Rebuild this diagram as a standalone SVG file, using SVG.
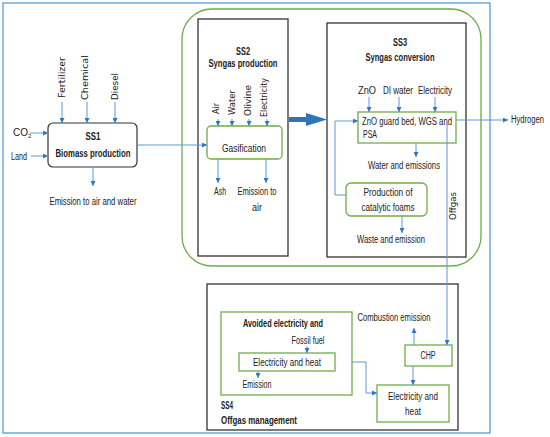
<svg xmlns="http://www.w3.org/2000/svg" width="550" height="437" viewBox="0 0 550 437">
<defs>
<marker id="ah" viewBox="0 0 6 6" refX="6" refY="3" markerWidth="5" markerHeight="5" orient="auto" markerUnits="userSpaceOnUse">
<path d="M0,0 L6,3 L0,6 Z" fill="#2f75c4"/>
</marker>
<style>
text{font-family:"Liberation Sans",Arial,sans-serif;font-size:10px;fill:#222}
.v{font-family:"DejaVu Sans","Liberation Sans",sans-serif;font-size:8.5px}
.b{font-weight:bold}
.m{text-anchor:middle}
.ln{fill:none;stroke:#5b9bd5;stroke-width:1}
.ar{marker-end:url(#ah)}
.blk{fill:#fff;stroke:#333;stroke-width:1.3}
.grn{fill:#fff;stroke:#70ad47;stroke-width:1.3}
</style>
</defs>
<rect width="550" height="437" fill="#fff"/>
<rect x="3" y="3" width="487" height="430" fill="none" stroke="#5b9bd5" stroke-width="1.3"/>
<rect x="182" y="9" width="299" height="257" rx="30" fill="none" stroke="#70ad47" stroke-width="1.3"/>

<g id="ss1">
<rect x="48" y="123" width="89" height="44" rx="5" fill="#fff" stroke="#333" stroke-width="1.2"/>
<text class="b m" x="93" y="140" textLength="15" lengthAdjust="spacingAndGlyphs">SS1</text>
<text class="b m" x="93" y="157" textLength="75" lengthAdjust="spacingAndGlyphs">Biomass production</text>
</g>
<g id="ss1-labels">
<text x="13" y="136">C<tspan dx="0">O</tspan><tspan font-size="6" dy="2">2</tspan></text>
<text x="11" y="160" textLength="16" lengthAdjust="spacingAndGlyphs">Land</text>
<text class="v" transform="translate(65,98) rotate(-90)" textLength="41" lengthAdjust="spacingAndGlyphs">Fertilizer</text>
<text class="v" transform="translate(88,100) rotate(-90)" textLength="45" lengthAdjust="spacingAndGlyphs">Chemical</text>
<text class="v" transform="translate(118,100) rotate(-90)" textLength="27" lengthAdjust="spacingAndGlyphs">Diesel</text>
<text class="m" x="93" y="205" textLength="87" lengthAdjust="spacingAndGlyphs">Emission to air and water</text>
</g>

<g id="ss2">
<rect class="blk" x="198" y="19" width="90" height="237"/>
<text class="b m" x="243" y="55" textLength="14" lengthAdjust="spacingAndGlyphs">SS2</text>
<text class="b m" x="243" y="67" textLength="69" lengthAdjust="spacingAndGlyphs">Syngas production</text>
</g>
<g id="gasification">
<rect class="grn" x="207" y="126" width="75" height="33" rx="4"/>
<text class="m" x="244" y="152" textLength="44" lengthAdjust="spacingAndGlyphs">Gasification</text>
</g>
<g id="ss2-labels">
<text class="v" transform="translate(219,114) rotate(-90)" textLength="11" lengthAdjust="spacingAndGlyphs">Air</text>
<text class="v" transform="translate(235,115) rotate(-90)" textLength="25" lengthAdjust="spacingAndGlyphs">Water</text>
<text class="v" transform="translate(251,116) rotate(-90)" textLength="31" lengthAdjust="spacingAndGlyphs">Olivine</text>
<text class="v" transform="translate(267,117) rotate(-90)" textLength="39" lengthAdjust="spacingAndGlyphs">Electricity</text>
<text class="m" x="220" y="195" textLength="12" lengthAdjust="spacingAndGlyphs">Ash</text>
<text class="m" x="257" y="195" textLength="39" lengthAdjust="spacingAndGlyphs">Emission to</text>
<text class="m" x="257" y="211" textLength="10" lengthAdjust="spacingAndGlyphs">air</text>
</g>

<g id="ss3">
<rect class="blk" x="327" y="23" width="139" height="234"/>
<text class="b m" x="400" y="46" textLength="14" lengthAdjust="spacingAndGlyphs">SS3</text>
<text class="b m" x="400" y="61" textLength="69" lengthAdjust="spacingAndGlyphs">Syngas conversion</text>
</g>
<g id="znobed">
<rect class="grn" x="358" y="112" width="98" height="31"/>
<text x="362" y="125" textLength="90" lengthAdjust="spacingAndGlyphs">ZnO guard bed, WGS and</text>
<text x="363" y="138" textLength="14" lengthAdjust="spacingAndGlyphs">PSA</text>
</g>
<g id="foams">
<rect class="grn" x="346" y="183" width="81" height="33" rx="5"/>
<text class="m" x="388" y="196" textLength="49" lengthAdjust="spacingAndGlyphs">Production of</text>
<text class="m" x="388" y="211" textLength="53" lengthAdjust="spacingAndGlyphs">catalytic foams</text>
</g>
<g id="ss3-labels">
<text class="m" x="367" y="94" textLength="18" lengthAdjust="spacingAndGlyphs">ZnO</text>
<text class="m" x="398" y="94" textLength="30" lengthAdjust="spacingAndGlyphs">DI water</text>
<text class="m" x="435" y="94" textLength="34" lengthAdjust="spacingAndGlyphs">Electricity</text>
<text class="m" x="404" y="169" textLength="72" lengthAdjust="spacingAndGlyphs">Water and emissions</text>
<text class="m" x="391" y="243" textLength="68" lengthAdjust="spacingAndGlyphs">Waste and emission</text>
<text x="511" y="123" font-size="8.5" textLength="33" lengthAdjust="spacingAndGlyphs">Hydrogen</text>
<text class="v" transform="translate(456,220) rotate(-90)" textLength="28" lengthAdjust="spacingAndGlyphs">Offgas</text>
</g>

<g id="ss4">
<rect class="blk" x="207" y="284" width="251" height="146"/>
<text class="b" x="221" y="409" textLength="12" lengthAdjust="spacingAndGlyphs">SS4</text>
<text class="b" x="221" y="424" textLength="76" lengthAdjust="spacingAndGlyphs">Offgas management</text>
</g>
<g id="avoided">
<rect class="grn" x="221" y="312" width="131" height="83"/>
<text class="b" x="243" y="327" textLength="80" lengthAdjust="spacingAndGlyphs">Avoided electricity and</text>
<text class="m" x="308" y="344" textLength="33" lengthAdjust="spacingAndGlyphs">Fossil fuel</text>
<text class="m" x="257" y="388" textLength="29" lengthAdjust="spacingAndGlyphs">Emission</text>
</g>
<g id="elec-heat-inner">
<rect class="grn" x="239" y="353" width="96" height="18"/>
<text class="m" x="287" y="366" textLength="68" lengthAdjust="spacingAndGlyphs">Electricity and heat</text>
</g>
<g id="chp">
<rect class="grn" x="405" y="345" width="47" height="21"/>
<text class="m" x="428" y="359" textLength="15" lengthAdjust="spacingAndGlyphs">CHP</text>
</g>
<g id="elec-heat">
<rect class="grn" x="377" y="385" width="72" height="37"/>
<text class="m" x="413" y="400" textLength="50" lengthAdjust="spacingAndGlyphs">Electricity and</text>
<text class="m" x="413" y="415" textLength="16" lengthAdjust="spacingAndGlyphs">heat</text>
</g>
<text class="m" x="394" y="321" textLength="73" lengthAdjust="spacingAndGlyphs">Combustion emission</text>

<g id="connectors">
<line class="ln ar" x1="30" y1="133" x2="48" y2="133"/>
<line class="ln ar" x1="31" y1="156" x2="48" y2="156"/>
<line class="ln ar" x1="62" y1="102" x2="62" y2="123"/>
<line class="ln ar" x1="87" y1="102" x2="87" y2="123"/>
<line class="ln ar" x1="115" y1="102" x2="115" y2="123"/>
<line class="ln ar" x1="93" y1="167" x2="93" y2="186"/>
<line class="ln ar" x1="137" y1="145" x2="207" y2="145"/>
<line class="ln ar" x1="218" y1="119" x2="218" y2="126"/>
<line class="ln ar" x1="232" y1="119" x2="232" y2="126"/>
<line class="ln ar" x1="249" y1="119" x2="249" y2="126"/>
<line class="ln ar" x1="267" y1="119" x2="267" y2="126"/>
<line class="ln ar" x1="218" y1="159" x2="218" y2="183"/>
<line class="ln ar" x1="266" y1="159" x2="266" y2="183"/>
<path d="M289,117 L306,117 L306,113 L327,119.5 L306,126 L306,122 L289,122 Z" fill="#2e75b6"/>
<line class="ln ar" x1="369" y1="97" x2="369" y2="112"/>
<line class="ln ar" x1="399" y1="97" x2="399" y2="112"/>
<line class="ln ar" x1="435" y1="97" x2="435" y2="112"/>
<line class="ln ar" x1="456" y1="120" x2="508" y2="120"/>
<line class="ln ar" x1="416" y1="143" x2="416" y2="157"/>
<path class="ln ar" d="M346,195 L335,195 L335,121 L358,121"/>
<line class="ln ar" x1="402" y1="216" x2="402" y2="233"/>
<path class="ln ar" d="M447,123 L447,345"/>
<line class="ln ar" x1="307" y1="346" x2="307" y2="353"/>
<line class="ln ar" x1="258" y1="371" x2="258" y2="378"/>
<path class="ln ar" d="M352,362 L366,362 L366,393 L377,393"/>
<line class="ln ar" x1="413" y1="366" x2="413" y2="385"/>
<line class="ln ar" x1="414" y1="345" x2="414" y2="328"/>
</g>
</svg>
